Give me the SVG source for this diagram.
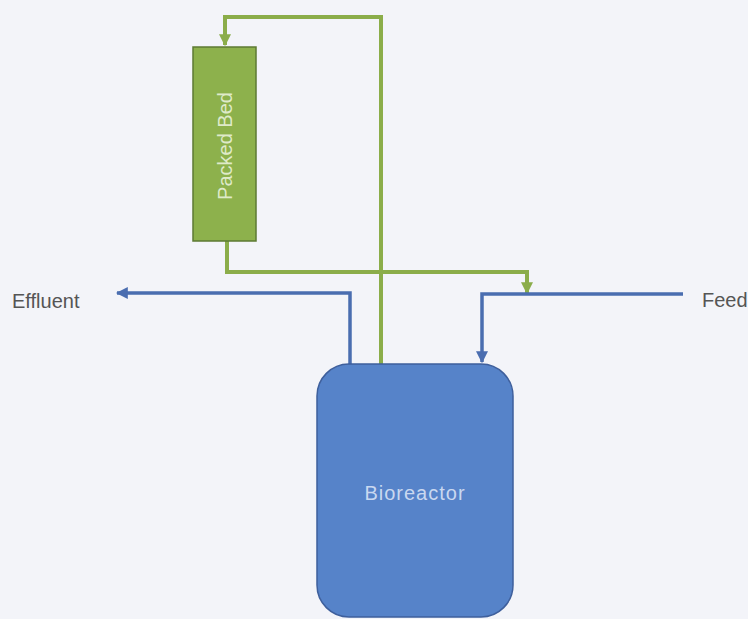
<svg xmlns="http://www.w3.org/2000/svg" width="748" height="619" viewBox="0 0 748 619">
<style>
.g{fill:none;stroke:#8bad4a;stroke-width:4;stroke-linejoin:miter}
.b{fill:none;stroke:#4a6db0;stroke-width:3.5;stroke-linejoin:miter}
.lbl{font-family:"Liberation Sans",Arial,sans-serif;font-size:20px}
</style>
<defs>
<marker id="ag" viewBox="0 0 10 10" refX="9" refY="5" markerWidth="12" markerHeight="12" markerUnits="userSpaceOnUse" orient="auto"><path d="M0,0 L10,5 L0,10 Z" fill="#8bad4a"/></marker>
<marker id="ab" viewBox="0 0 10 10" refX="9" refY="5" markerWidth="12" markerHeight="12" markerUnits="userSpaceOnUse" orient="auto"><path d="M0,0 L10,5 L0,10 Z" fill="#4a6db0"/></marker>
</defs>
<rect width="748" height="619" fill="#f3f4f9"/>
<g id="connectors">
<path class="g" d="M381,365 V17 H225 V45" marker-end="url(#ag)"/>
<path class="g" d="M227,241 V272 H527 V293" marker-end="url(#ag)"/>
<path class="b" d="M350,365 V293 H117" marker-end="url(#ab)"/>
<path class="b" d="M683,294 H482 V362" marker-end="url(#ab)"/>
</g>
<g id="packed-bed">
<rect x="193" y="47" width="63" height="194" fill="#8db14c" stroke="#5d7a33" stroke-width="1.5"/>
<text class="lbl" x="0" y="0" fill="#dfeac9" text-anchor="middle" transform="translate(232,146) rotate(-90)">Packed Bed</text>
</g>
<g id="bioreactor">
<rect x="317" y="364" width="196" height="253" rx="32" ry="32" fill="#5683c9" stroke="#3e5f9c" stroke-width="1.5"/>
<text class="lbl" x="415" y="500" fill="#c9d8f0" text-anchor="middle" letter-spacing="1">Bioreactor</text>
</g>
<g id="effluent">
<text class="lbl" x="12" y="308" fill="#555">Effluent</text>
</g>
<g id="feed">
<text class="lbl" x="702" y="307" fill="#555">Feed</text>
</g>
</svg>
